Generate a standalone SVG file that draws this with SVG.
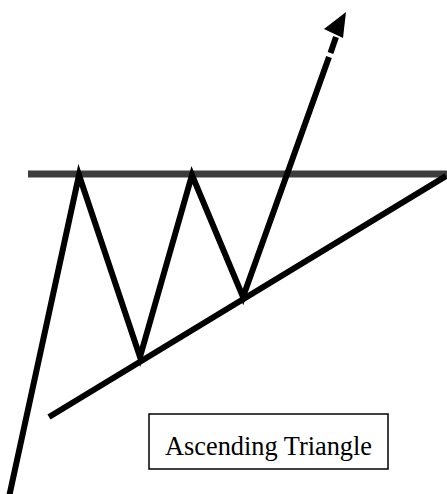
<svg xmlns="http://www.w3.org/2000/svg" width="447" height="494" viewBox="0 0 447 494">
<style>
.ln{fill:none;stroke:#000;stroke-width:6;stroke-linejoin:miter;stroke-linecap:butt}
.res{fill:none;stroke:#3c3c3c;stroke-width:7}
.lbl{font-family:"Liberation Serif","DejaVu Serif",serif;font-size:27px;fill:#000}
</style>
<rect width="447" height="494" fill="#fff"/>
<g id="resistance">
<line class="res" x1="28" y1="174" x2="447" y2="174"/>
</g>
<g id="support">
<line class="ln" x1="49" y1="417" x2="446" y2="176"/>
</g>
<g id="price">
<polyline class="ln" points="9,497 79,175 140,357 192,175 243,297 329,57"/>
<line class="ln" x1="330.5" y1="53" x2="336" y2="37"/>
<polygon points="346,12 324,29 343,38" fill="#000"/>
</g>
<g id="label">
<rect x="149" y="414" width="239" height="55" fill="none" stroke="#000" stroke-width="1.5"/>
<text class="lbl" x="165" y="455" textLength="207" lengthAdjust="spacingAndGlyphs">Ascending Triangle</text>
</g>
</svg>
